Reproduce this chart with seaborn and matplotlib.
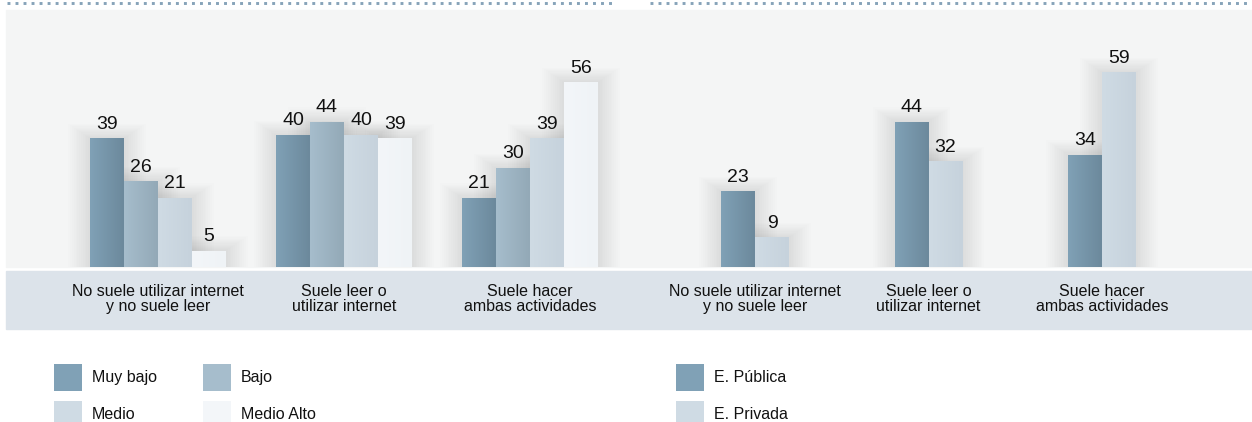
import numpy as np
import pandas as pd
import matplotlib
matplotlib.use("Agg")
import matplotlib.pyplot as plt
import seaborn as sns
from matplotlib.patches import Rectangle
from matplotlib.lines import Line2D
from matplotlib.colors import LinearSegmentedColormap

# data
categories = ["No suele utilizar internet\ny no suele leer",
              "Suele leer o\nutilizar internet",
              "Suele hacer\nambas actividades"]
levels = ["Muy bajo", "Bajo", "Medio", "Medio Alto"]
muy_bajo = [39, 40, 21]
bajo = [26, 44, 30]
medio = [21, 40, 39]
medio_alto = [5, 39, 56]
schools = ["E. Pública", "E. Privada"]
publica = [23, 44, 34]
privada = [9, 32, 59]

# colours: (left, right) of each bar's soft gradient
grad = {
    "Muy bajo": ("#80a1b6", "#6c899c"),
    "Bajo": ("#a6bdcc", "#93a9b7"),
    "Medio": ("#cfdbe4", "#c6d2dc"),
    "Medio Alto": ("#f3f6f9", "#eff3f6"),
}
grad["E. Pública"] = grad["Muy bajo"]
grad["E. Privada"] = grad["Medio"]

left_df = pd.DataFrame({
    "cat": categories * 4,
    "grupo": [l for l in levels for _ in categories],
    "valor": muy_bajo + bajo + medio + medio_alto,
})
right_df = pd.DataFrame({
    "cat": categories * 2,
    "grupo": [s for s in schools for _ in categories],
    "valor": publica + privada,
})

sns.set_style("white")
plt.rcParams["font.family"] = ["Liberation Sans", "DejaVu Sans"]

W, H = 1252, 422
fig = plt.figure(figsize=(W / 100, H / 100), dpi=100)
fig.patch.set_facecolor("white")

# background panel and label band (behind the axes)
fig.patches.append(Rectangle((6 / W, 155 / H), 1246 / W, 257 / H,
                             transform=fig.transFigure, color="#f4f5f5", zorder=-2))
fig.patches.append(Rectangle((6 / W, 93 / H), 1246 / W, 58 / H,
                             transform=fig.transFigure, color="#dce3ea", zorder=-2))
# dotted rules at top
for x0, x1 in [(7, 614), (650, 1252)]:
    fig.lines.append(Line2D([x0 / W, x1 / W], [419.5 / H, 419.5 / H],
                            transform=fig.transFigure, color="#86a3b9",
                            lw=2.1, linestyle=(0, (1, 1.75)),
                            solid_capstyle="butt", dash_capstyle="butt", zorder=-1))

PX_Y = 3.3  # pixels per unit of value
ytop = 257 / PX_Y


def draw(df, hue_order, x_left, x_right, center0, spacing, width):
    ax = fig.add_axes([x_left / W, 155 / H, (x_right - x_left) / W, 257 / H])
    ax.set_facecolor("none")
    sns.barplot(data=df, x="cat", y="valor", hue="grupo", hue_order=hue_order,
                palette=[grad[h][0] for h in hue_order], width=width,
                saturation=1, legend=False, ax=ax, zorder=2, linewidth=0)
    xlim = ((x_left - center0) / spacing, (x_right - center0) / spacing)
    for cont, h in zip(ax.containers, hue_order):
        cmap = LinearSegmentedColormap.from_list(h, grad[h])
        for bar in cont:
            x, w, hgt = bar.get_x(), bar.get_width(), bar.get_height()
            # soft halo behind the bar
            for k in range(1, 13):
                dx = 1.8 * k / spacing
                dy = 1.2 * k / PX_Y
                ax.add_patch(Rectangle((x - dx, 0), w + 2 * dx, hgt + dy,
                                       color="black", alpha=0.007, lw=0, zorder=1))
            img = ax.imshow(np.linspace(0, 1, 64).reshape(1, -1), cmap=cmap,
                            extent=[x, x + w, 0, hgt], aspect="auto", zorder=3,
                            interpolation="bilinear")
            img.set_clip_path(bar)
        ax.bar_label(cont, padding=4, fontsize=14, color="#111111", zorder=4)
    ax.set_xlim(*xlim)
    ax.set_ylim(0, ytop)
    ax.set_xlabel("")
    ax.set_ylabel("")
    ax.set_yticks([])
    ax.tick_params(axis="x", length=0, pad=12, labelsize=11.5, colors="#111111")
    for t in ax.get_xticklabels():
        t.set_linespacing(1.0)
    sns.despine(ax=ax, left=True, bottom=True)
    return ax


ax1 = draw(left_df, levels, 6, 640, 158, 186, 136 / 186)
ax2 = draw(right_df, schools, 640, 1252, 755, 173.5, 68 / 173.5)

# legends
fs = 11.5
em = fs * 100 / 72
# matplotlib trims the handle box by a descent term; solve for a 27 px square
hh = (27 / em - 0.245) / 0.65


def legend(ax, labels, x, ncol, colspace):
    handles = [Rectangle((0, 0), 1, 1, color=grad[l][0], lw=0) for l in labels]
    leg = ax.legend(handles, labels, ncol=ncol, frameon=False, fontsize=fs,
                    loc="upper left", bbox_to_anchor=(x / W, 58 / H),
                    bbox_transform=fig.transFigure, borderpad=0, borderaxespad=0,
                    handlelength=28 / em, handleheight=hh,
                    handletextpad=10 / em, labelspacing=10 / em,
                    columnspacing=colspace)
    for t in leg.get_texts():
        t.set_color("#111111")
    return leg


legend(ax1, ["Muy bajo", "Medio", "Bajo", "Medio Alto"], 54, 2, 46 / em)
legend(ax2, schools, 676, 1, 1)

fig.savefig("out.png", dpi=100)
